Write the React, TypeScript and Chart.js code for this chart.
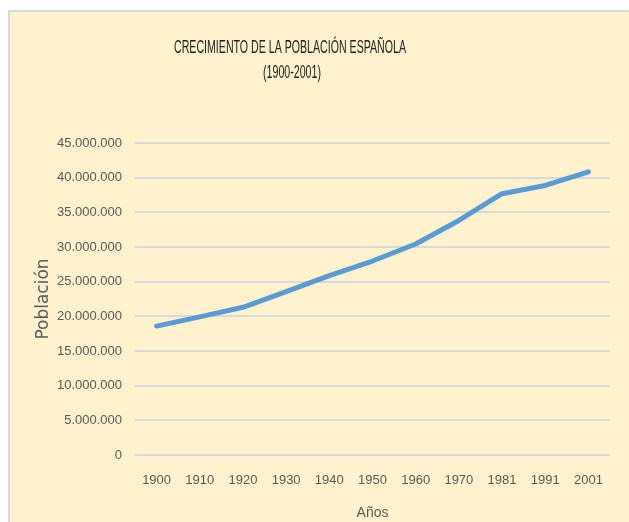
import React, { useEffect, useRef } from "react";
import { Chart, registerables } from "chart.js";

Chart.register(...registerables);

const years = ["1900", "1910", "1920", "1930", "1940", "1950", "1960", "1970", "1981", "1991", "2001"];
const population = [18594000, 19927000, 21303000, 23564000, 25878000, 27977000, 30431000, 33824000, 37683000, 38872000, 40847000];
const titleLines = ["CRECIMIENTO DE LA POBLACIÓN ESPAÑOLA", "(1900-2001)"];
const yAxisTitle = "Población";
const xAxisTitle = "Años";

const SANS = '"Liberation Sans", Arial, sans-serif';

const fmt = (v: number | string) => String(v).replace(/\B(?=(\d{3})+(?!\d))/g, ".");

const titlePlugin = {
  id: "customTitle",
  afterDraw(chart: any) {
    const ctx = chart.ctx;
    ctx.save();
    ctx.fillStyle = "#222222";
    ctx.font = `18px ${SANS}`;
    ctx.textAlign = "center";
    ctx.textBaseline = "middle";
    const w0 = ctx.measureText(titleLines[0]).width;
    const sx = 232 / w0;
    ctx.translate(280, 0);
    ctx.scale(sx, 1);
    ctx.fillText(titleLines[0], 0, 36);
    ctx.fillText(titleLines[1], 2 / sx, 61);
    ctx.restore();
  },
};

export default function App() {
  const ref = useRef<HTMLCanvasElement | null>(null);
  useEffect(() => {
    if (!ref.current) return;
    const chart = new Chart(ref.current, {
      type: "line",
      data: {
        labels: years,
        datasets: [
          {
            data: population,
            borderColor: "#5B9BD5",
            backgroundColor: "#5B9BD5",
            borderWidth: 5,
            pointRadius: 0,
            tension: 0,
            borderCapStyle: "round",
            borderJoinStyle: "round",
          },
        ],
      },
      options: {
        animation: false,
        responsive: false,
        layout: { padding: { top: 131, right: 19, left: 0, bottom: 0 } },
        plugins: { legend: { display: false }, title: { display: false }, tooltip: { enabled: false } },
        scales: {
          x: {
            offset: true,
            grid: { display: false, drawTicks: false },
            border: { display: false },
            ticks: { color: "#595959", font: { family: SANS, size: 13 }, padding: 18, maxRotation: 0 },
            title: { display: true, text: xAxisTitle, color: "#595959", font: { family: SANS, size: 14 }, padding: { top: 0, bottom: 0 } },
            afterFit: (s: any) => { s.height = 67; },
          },
          y: {
            min: 0,
            max: 45000000,
            grid: { color: "#d9d9d9", lineWidth: 2, drawTicks: false },
            border: { display: false },
            ticks: { stepSize: 5000000, color: "#595959", font: { family: SANS, size: 13 }, padding: 13, callback: (v: any) => fmt(v) },
            title: { display: true, text: yAxisTitle, color: "#595959", font: { family: '"DejaVu Sans", sans-serif', size: 17 }, padding: { top: 23, bottom: 0 } },
            afterFit: (s: any) => { s.width = 125; },
          },
        },
      },
      plugins: [titlePlugin],
    });
    return () => chart.destroy();
  }, []);
  return (
    <div
      style={{
        position: "fixed",
        left: 8,
        top: 10,
        width: 619,
        height: 510,
        background: "#FFF2CC",
        borderLeft: "2px solid #d9d9d9",
        borderTop: "2px solid #d9d9d9",
      }}
    >
      <canvas ref={ref} width={619} height={510} style={{ display: "block" }} />
    </div>
  );
}
